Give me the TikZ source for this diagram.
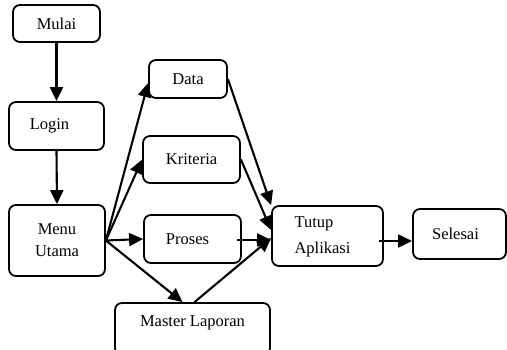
\documentclass[tikz,border=0pt]{standalone}
\usepackage{fontspec}
\setmainfont{Liberation Serif}
\usetikzlibrary{arrows.meta}
\begin{document}
\begin{tikzpicture}[x=1pt,y=-1pt,
  box/.style={draw, line width=1.8pt, rounded corners=7pt, inner sep=0pt,
    font=\fontsize{16.5}{22}\selectfont, align=center},
  arr/.style={line width=2.1pt, -{Triangle[length=14pt,width=13pt]}}]
\useasboundingbox (0,0) rectangle (507,350);
\clip (0,0) rectangle (507,350);
\node[box, minimum width=87pt, minimum height=37pt] (mulai) at (56.5,23.5) {\raisebox{-2pt}{Mulai}};
\node[box, minimum width=95pt, minimum height=48pt] (login) at (56.5,126) {\hspace*{-14pt}Login};
\node[box, minimum width=96pt, minimum height=71pt] (menu) at (57,240.5) {Menu\\Utama};
\node[box, minimum width=78pt, minimum height=38pt] (data) at (188,79) {\raisebox{-2pt}{Data}};
\node[box, minimum width=97pt, minimum height=47pt] (krit) at (191.5,159.5) {Kriteria};
\node[box, minimum width=97pt, minimum height=48pt] (proses) at (192.5,239) {\hspace*{-10pt}Proses};
\node[box, minimum width=155pt, text height=10pt, text depth=14pt, inner ysep=14pt] (ml) at (192.5,329) {Master Laporan};
\node[box, minimum width=111pt, minimum height=60pt, align=left] (tutup) at (327.5,236) {\hspace*{-10pt}\begin{tabular}{@{}l@{}}Tutup\\[4pt]Aplikasi\end{tabular}};
\node[box, minimum width=93pt, minimum height=50pt] (selesai) at (459.5,234) {\hspace*{-8pt}Selesai};
\draw[arr] (mulai.south) -- (login.north);
\draw[arr] (login.south) -- (menu.north);
\draw[arr] (menu.east) -- ([yshift=-4pt]data.west);
\draw[arr] (menu.east) -- (krit.west);
\draw[arr] (menu.east) -- (proses.west);
\draw[arr] (menu.east) -- ([xshift=-10pt]ml.north);
\draw[arr] (data.east) -- (tutup.north west);
\draw[arr] (krit.east) -- ([yshift=6pt]tutup.west);
\draw[arr] ([xshift=-5pt,yshift=-1pt]proses.east) -- ([yshift=-4pt]tutup.west);
\draw[arr] ([xshift=2pt]ml.north) -- ([yshift=-2pt]tutup.west);
\draw[arr] ([xshift=-5pt,yshift=-5pt]tutup.east) -- ([yshift=-7pt]selesai.west);
\end{tikzpicture}
\end{document}
